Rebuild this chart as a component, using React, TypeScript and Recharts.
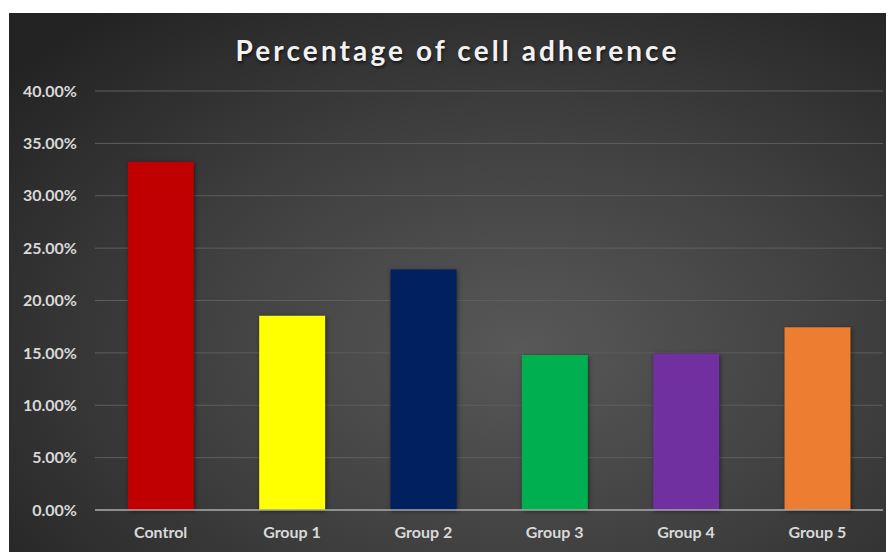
import React from 'react';
import { BarChart, Bar, XAxis, YAxis, CartesianGrid, Cell } from 'recharts';

const categories = ['Control', 'Group 1', 'Group 2', 'Group 3', 'Group 4', 'Group 5'];
const adherence = [33.25, 18.55, 22.95, 14.8, 14.95, 17.45];
const barColors = ['#c00000', '#ffff00', '#002060', '#00b050', '#7030a0', '#ed7d31'];
const yTicks = [0, 5, 10, 15, 20, 25, 30, 35, 40];

const data = categories.map((name, i) => ({ name, value: adherence[i] }));

const tickStyle = { fill: '#d9d9d9', fontSize: 16, fontWeight: 700, fontFamily: 'Lato, sans-serif' };

export default function App() {
  return (
    <div
      style={{
        position: 'relative',
        width: 885,
        height: 539,
        marginLeft: 1,
        marginTop: 5,
        background: 'radial-gradient(ellipse 75% 80% at 58% 62%, #585858 0%, #404040 50%, #232323 100%)',
      }}
    >
      <div
        style={{
          position: 'absolute',
          top: 20,
          left: 6,
          width: 885,
          textAlign: 'center',
          color: '#f2f2f2',
          fontFamily: 'Lato, sans-serif',
          fontWeight: 700,
          fontSize: 28,
          letterSpacing: 3.1,
          textShadow: '1px 2px 3px rgba(0,0,0,0.6)',
        }}
      >
        Percentage of cell adherence
      </div>
      <BarChart
        width={885}
        height={539}
        data={data}
        margin={{ top: 78, right: 11, bottom: 0, left: 0 }}
        barCategoryGap="25%"
      >
        <CartesianGrid vertical={false} stroke="#5e5e5e" strokeWidth={1} />
        <XAxis
          dataKey="name"
          height={42}
          tickLine={false}
          tickSize={0}
          tickMargin={17}
          axisLine={{ stroke: '#a6a6a6', strokeWidth: 1.5 }}
          tick={tickStyle}
        />
        <YAxis
          width={86}
          domain={[0, 40]}
          ticks={yTicks}
          interval={0}
          axisLine={false}
          tickLine={false}
          tickSize={0}
          tickMargin={18}
          tick={tickStyle}
          tickFormatter={(v: number) => `${v.toFixed(2)}%`}
        />
        <Bar dataKey="value" isAnimationActive={false} style={{ filter: 'drop-shadow(1px 1px 2px rgba(0,0,0,0.5))' }}>
          {data.map((d, i) => (
            <Cell key={d.name} fill={barColors[i]} />
          ))}
        </Bar>
      </BarChart>
    </div>
  );
}
